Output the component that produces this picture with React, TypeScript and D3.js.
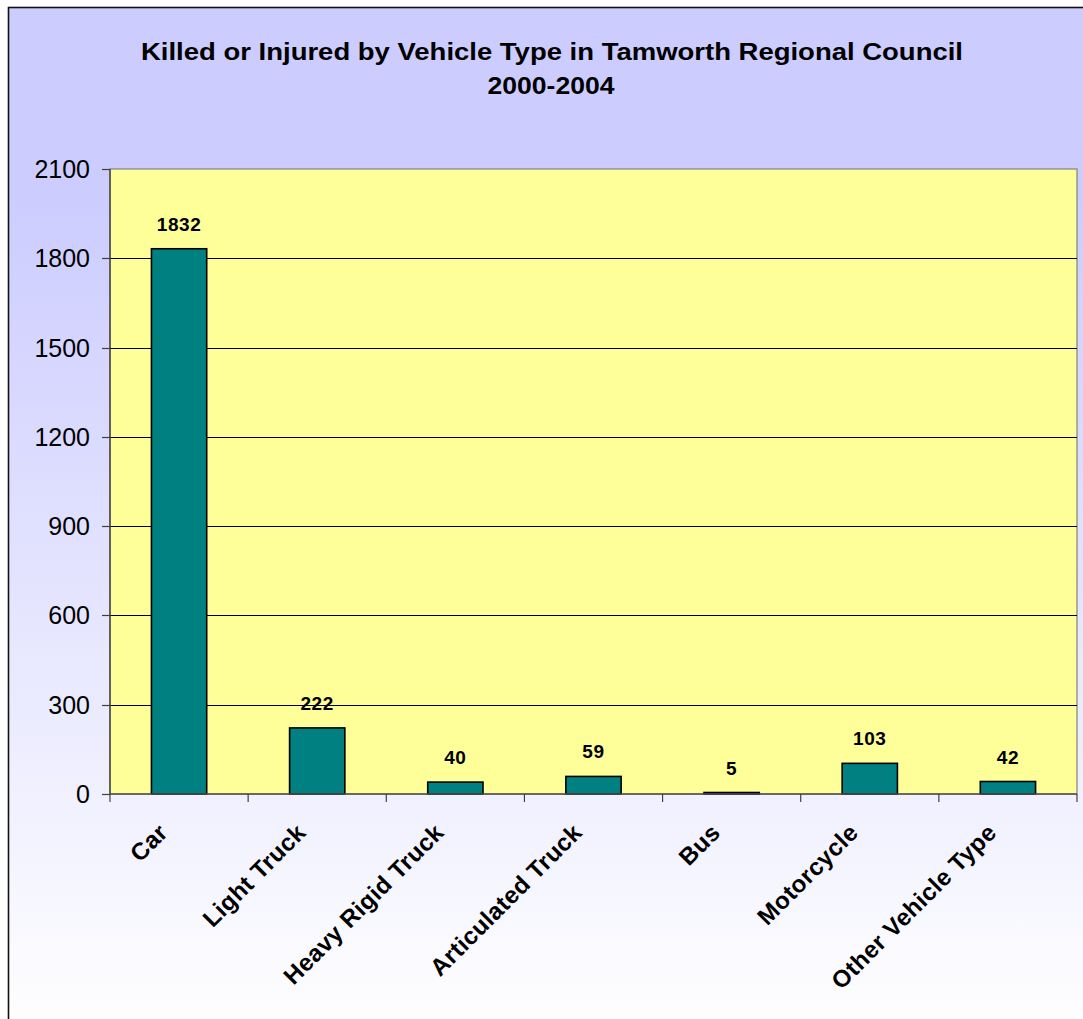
import React from "react";
import * as d3 from "d3";

const categories = ["Car", "Light Truck", "Heavy Rigid Truck", "Articulated Truck", "Bus", "Motorcycle", "Other Vehicle Type"];
const values = [1832, 222, 40, 59, 5, 103, 42];
const yTicks = [0, 300, 600, 900, 1200, 1500, 1800, 2100];
const titleLines = ["Killed or Injured by Vehicle Type in Tamworth Regional Council", "2000-2004"];

const W = 1083;
const H = 1019;
const plot = { left: 110, right: 1077, top: 169, bottom: 794 };
const FONT = "'Liberation Sans', Arial, Helvetica, sans-serif";

export default function App() {
  const x = d3.scaleBand<string>().domain(categories).range([plot.left, plot.right]).paddingInner(0).paddingOuter(0);
  const y = d3.scaleLinear().domain([0, 2100]).range([plot.bottom, plot.top]);
  const bw = x.bandwidth();
  const barW = bw * 0.4;
  const boundaries = d3.range(categories.length + 1).map((i) => plot.left + i * bw);

  return (
    <svg width={W} height={H} style={{ position: "fixed", left: 0, top: 0 }} fontFamily={FONT}>
      <defs>
        <linearGradient id="bg" x1="0" y1="0" x2="0" y2="1">
          <stop offset="0%" stopColor="#CCCCFF" />
          <stop offset="18%" stopColor="#CCCCFF" />
          <stop offset="100%" stopColor="#FFFFFF" />
        </linearGradient>
      </defs>
      <rect x={0} y={0} width={W} height={H} fill="#FFFFFF" />
      <rect x={8.5} y={7.5} width={W + 10} height={H + 10} fill="url(#bg)" stroke="#111" strokeWidth={1.6} />

      {/* title */}
      <text x={552} y={60} textAnchor="middle" fontSize={24} fontWeight="bold" textLength={822} lengthAdjust="spacingAndGlyphs" fill="#000">
        {titleLines[0]}
      </text>
      <text x={551} y={94} textAnchor="middle" fontSize={24} fontWeight="bold" textLength={127} lengthAdjust="spacingAndGlyphs" fill="#000">
        {titleLines[1]}
      </text>

      {/* plot area */}
      <rect x={plot.left} y={plot.top} width={plot.right - plot.left} height={plot.bottom - plot.top} fill="#FFFF99" stroke="#808080" strokeWidth={1.2} />

      {/* gridlines */}
      {yTicks.filter((t) => t > 0 && t < 2100).map((t) => (
        <line key={"g" + t} x1={plot.left} x2={plot.right} y1={Math.round(y(t)) + 0.5} y2={Math.round(y(t)) + 0.5} stroke="#000" strokeWidth={1} />
      ))}

      {/* bars */}
      {categories.map((c, i) => {
        const cx = (x(c) as number) + bw / 2;
        return (
          <rect key={"b" + c} x={cx - barW / 2} y={y(values[i])} width={barW} height={plot.bottom - y(values[i])} fill="#008080" stroke="#000" strokeWidth={1.6} />
        );
      })}

      {/* data labels */}
      {categories.map((c, i) => {
        const cx = (x(c) as number) + bw / 2;
        return (
          <text key={"v" + c} x={cx} y={y(values[i]) - 18} textAnchor="middle" fontSize={19} fontWeight="bold" letterSpacing={0.6} fill="#000">
            {values[i]}
          </text>
        );
      })}

      {/* y axis */}
      <line x1={plot.left} x2={plot.left} y1={plot.top} y2={plot.bottom} stroke="#404040" strokeWidth={1.4} />
      {yTicks.map((t) => (
        <g key={"y" + t}>
          <line x1={plot.left - 8} x2={plot.left} y1={Math.round(y(t)) + 0.5} y2={Math.round(y(t)) + 0.5} stroke="#404040" strokeWidth={1.2} />
          <text x={90} y={y(t) + 9} textAnchor="end" fontSize={25} fill="#000">
            {t}
          </text>
        </g>
      ))}

      {/* x axis */}
      <line x1={plot.left} x2={plot.right} y1={plot.bottom} y2={plot.bottom} stroke="#505050" strokeWidth={1.4} />
      {boundaries.map((bx, i) => (
        <line key={"t" + i} x1={bx} x2={bx} y1={plot.bottom} y2={plot.bottom + 8} stroke="#404040" strokeWidth={1.2} />
      ))}
      {categories.map((c) => {
        const cx = (x(c) as number) + bw / 2;
        const px = cx - 10;
        const py = plot.bottom + 40;
        return (
          <text key={"c" + c} x={px} y={py} transform={`rotate(-45 ${px} ${py})`} textAnchor="end" fontSize={24} fontWeight="bold" letterSpacing={0.4} fill="#000">
            {c}
          </text>
        );
      })}
    </svg>
  );
}
